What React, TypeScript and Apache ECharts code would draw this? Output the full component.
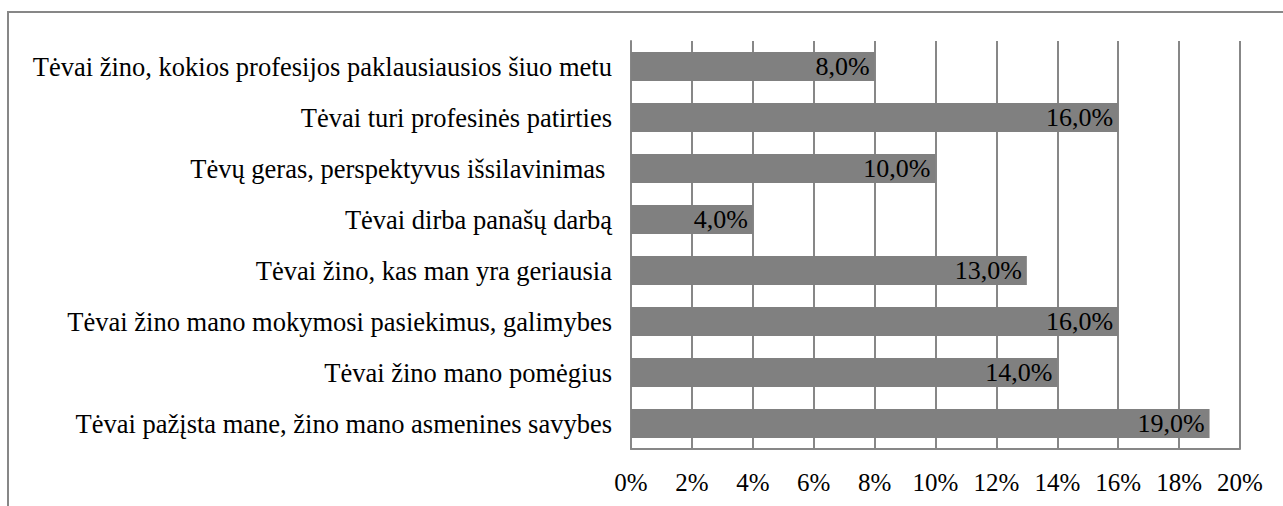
import React, { useEffect, useRef } from "react";
import * as echarts from "echarts";

const categories = [
  "Tėvai žino, kokios profesijos paklausiausios šiuo metu",
  "Tėvai turi profesinės patirties",
  "Tėvų geras, perspektyvus išsilavinimas ",
  "Tėvai dirba panašų darbą",
  "Tėvai žino, kas man yra geriausia",
  "Tėvai žino mano mokymosi pasiekimus, galimybes",
  "Tėvai žino mano pomėgius",
  "Tėvai pažįsta mane, žino mano asmenines savybes",
];
const values = [8, 16, 10, 4, 13, 16, 14, 19];
const axisMin = 0;
const axisMax = 20;
const axisStep = 2;

const FONT = "Liberation Serif, Times New Roman, serif";
const LINE = "#878787";

export default function App() {
  const ref = useRef<HTMLDivElement>(null);
  useEffect(() => {
    if (!ref.current) return;
    const chart = echarts.init(ref.current, undefined, { renderer: "svg" });
    chart.setOption({
      animation: false,
      backgroundColor: "#ffffff",
      grid: { left: 631, right: 43, top: 41, bottom: 57, containLabel: false },
      xAxis: {
        type: "value",
        min: axisMin,
        max: axisMax,
        interval: axisStep,
        axisLine: { show: true, lineStyle: { color: LINE, width: 2 } },
        axisTick: { show: false },
        splitLine: { show: true, lineStyle: { color: LINE, width: 2 } },
        axisLabel: {
          color: "#000",
          fontFamily: FONT,
          fontSize: 25,
          margin: 21,
          formatter: (v: number) => `${v}%`,
        },
      },
      yAxis: {
        type: "category",
        data: categories,
        inverse: true,
        axisLine: { show: true, lineStyle: { color: LINE, width: 2 } },
        axisTick: { show: false },
        splitLine: { show: false },
        axisLabel: {
          color: "#000",
          fontFamily: FONT,
          fontSize: 26.5,
          margin: 19,
        },
      },
      series: [
        {
          type: "bar",
          data: values,
          barWidth: 29,
          itemStyle: { color: "#808080" },
          label: {
            show: true,
            position: "insideRight",
            distance: 5,
            color: "#000",
            fontFamily: FONT,
            fontSize: 26,
            formatter: (p: any) => `${p.value.toFixed(1).replace(".", ",")}%`,
          },
        },
      ],
      graphic: [
        {
          type: "line",
          shape: { x1: 7, y1: 12, x2: 1283, y2: 12 },
          style: { stroke: LINE, lineWidth: 2 },
        },
        {
          type: "line",
          shape: { x1: 8, y1: 12, x2: 8, y2: 506 },
          style: { stroke: LINE, lineWidth: 2 },
        },
      ],
    });
    return () => chart.dispose();
  }, []);
  return (
    <div
      ref={ref}
      style={{ position: "absolute", left: 0, top: 0, width: 1283, height: 506 }}
    />
  );
}
